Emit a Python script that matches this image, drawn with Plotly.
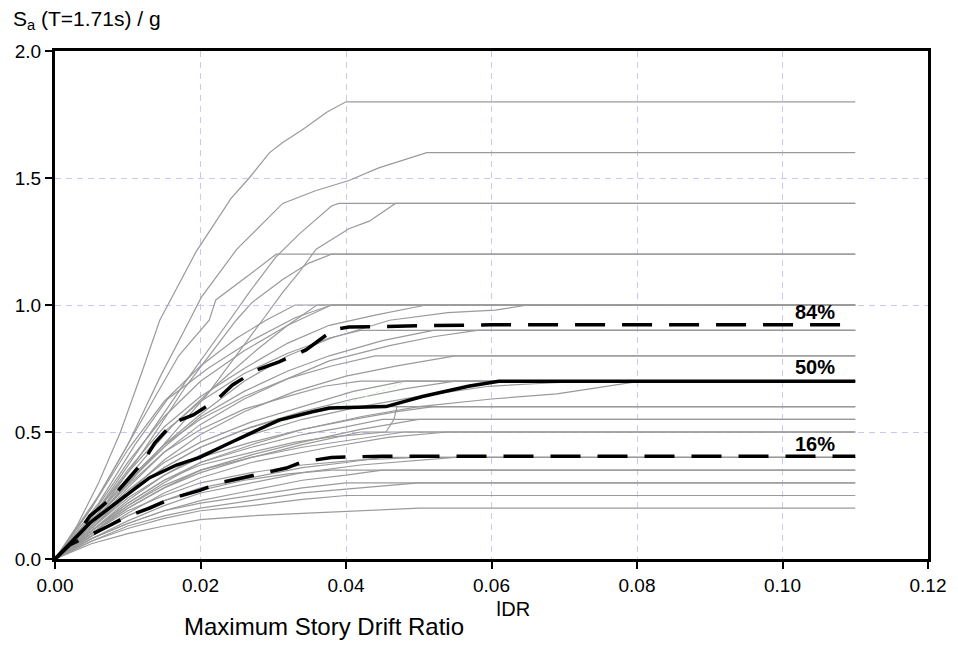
import plotly.graph_objects as go

# ---------------- data ----------------
X_END = 0.11  # flat-line extension of every IDA curve

gray_x = [
    [0, 0.003, 0.006, 0.009, 0.012, 0.0144, 0.0194, 0.0242, 0.0267, 0.0295, 0.0313, 0.034, 0.0374, 0.040],
    [0, 0.005, 0.010, 0.0145, 0.0185, 0.0201, 0.025, 0.0271, 0.0313, 0.0358, 0.0404, 0.0445, 0.0511],
    [0, 0.006, 0.012, 0.018, 0.024, 0.0267, 0.0304, 0.0336, 0.038, 0.039],
    [0, 0.007, 0.014, 0.021, 0.0285, 0.0313, 0.0336, 0.0359, 0.0404, 0.0432, 0.0468],
    [0, 0.006, 0.012, 0.017, 0.0212, 0.0221, 0.0263, 0.0304],
    [0, 0.006, 0.012, 0.018, 0.0249, 0.0271, 0.0313, 0.0349, 0.038],
    [0, 0.005, 0.010, 0.015, 0.020, 0.025, 0.029, 0.033],
    [0, 0.005, 0.010, 0.015, 0.020, 0.026, 0.032, 0.038],
    [0, 0.006, 0.011, 0.0155, 0.021, 0.027, 0.033, 0.038],
    [0, 0.005, 0.010, 0.016, 0.022, 0.028, 0.032, 0.036],
    [0, 0.005, 0.010, 0.015, 0.020, 0.026, 0.032, 0.0377, 0.044, 0.051],
    [0, 0.005, 0.010, 0.015, 0.020, 0.026, 0.032, 0.038, 0.046, 0.054, 0.0605, 0.065],
    [0, 0.005, 0.010, 0.015, 0.020, 0.026, 0.032, 0.0377, 0.042],
    [0, 0.005, 0.010, 0.015, 0.020, 0.026, 0.032, 0.0377, 0.045, 0.052],
    [0, 0.005, 0.010, 0.015, 0.020, 0.026, 0.032, 0.0377, 0.046, 0.052, 0.058],
    [0, 0.005, 0.010, 0.015, 0.020, 0.026, 0.032, 0.038, 0.044],
    [0, 0.005, 0.010, 0.015, 0.020, 0.026, 0.033, 0.040, 0.047, 0.055],
    [0, 0.005, 0.010, 0.015, 0.020, 0.026, 0.032, 0.037, 0.042],
    [0, 0.005, 0.010, 0.015, 0.020, 0.027, 0.034, 0.041, 0.048],
    [0, 0.005, 0.010, 0.015, 0.020, 0.027, 0.034, 0.041, 0.048, 0.055],
    [0, 0.005, 0.010, 0.015, 0.020, 0.027, 0.034, 0.042, 0.050, 0.0596, 0.066, 0.073],
    [0, 0.005, 0.010, 0.015, 0.020, 0.027, 0.034, 0.042, 0.050, 0.060, 0.069, 0.075, 0.0805],
    [0, 0.005, 0.010, 0.015, 0.020, 0.026, 0.032, 0.036, 0.040],
    [0, 0.005, 0.010, 0.015, 0.020, 0.027, 0.033, 0.0377, 0.0455, 0.0466, 0.047],
    [0, 0.005, 0.010, 0.015, 0.020, 0.027, 0.034, 0.041, 0.047, 0.052],
    [0, 0.005, 0.010, 0.015, 0.020, 0.027, 0.034, 0.040, 0.045],
    [0, 0.005, 0.010, 0.015, 0.020, 0.027, 0.034, 0.042, 0.050],
    [0, 0.005, 0.010, 0.015, 0.020, 0.027, 0.034, 0.042],
    [0, 0.005, 0.010, 0.015, 0.020, 0.027, 0.0377, 0.046, 0.054],
    [0, 0.005, 0.010, 0.015, 0.020, 0.027, 0.034, 0.041, 0.048],
    [0, 0.005, 0.010, 0.015, 0.020, 0.027, 0.034, 0.040, 0.045],
    [0, 0.005, 0.010, 0.015, 0.020, 0.027, 0.034, 0.042, 0.050, 0.055],
    [0, 0.005, 0.010, 0.015, 0.020, 0.027, 0.034, 0.042, 0.050],
    [0, 0.005, 0.010, 0.015, 0.020, 0.026, 0.032, 0.038],
    [0, 0.005, 0.010, 0.015, 0.020, 0.027, 0.034, 0.040, 0.045],
    [0, 0.005, 0.010, 0.015, 0.020, 0.027, 0.034, 0.040],
    [0, 0.005, 0.010, 0.015, 0.020, 0.027, 0.034, 0.042, 0.050],
    [0, 0.005, 0.010, 0.015, 0.020, 0.027, 0.034, 0.040],
    [0, 0.005, 0.010, 0.015, 0.020, 0.027, 0.034, 0.042, 0.050],
]
gray_y = [
    [0, 0.13, 0.30, 0.50, 0.74, 0.94, 1.21, 1.42, 1.50, 1.60, 1.64, 1.69, 1.76, 1.80],
    [0, 0.20, 0.45, 0.72, 0.94, 1.03, 1.22, 1.28, 1.40, 1.45, 1.49, 1.54, 1.60],
    [0, 0.20, 0.45, 0.70, 0.94, 1.05, 1.19, 1.28, 1.39, 1.40],
    [0, 0.20, 0.42, 0.65, 0.94, 1.05, 1.13, 1.22, 1.30, 1.33, 1.40],
    [0, 0.25, 0.55, 0.80, 0.94, 1.02, 1.11, 1.20],
    [0, 0.18, 0.42, 0.68, 0.94, 1.01, 1.10, 1.165, 1.20],
    [0, 0.20, 0.43, 0.62, 0.76, 0.87, 0.94, 1.00],
    [0, 0.17, 0.38, 0.56, 0.70, 0.82, 0.92, 1.00],
    [0, 0.22, 0.45, 0.63, 0.75, 0.86, 0.95, 1.00],
    [0, 0.15, 0.32, 0.52, 0.68, 0.83, 0.92, 1.00],
    [0, 0.16, 0.35, 0.52, 0.64, 0.75, 0.85, 0.92, 0.96, 1.00],
    [0, 0.14, 0.30, 0.45, 0.57, 0.70, 0.80, 0.87, 0.94, 0.97, 0.98, 1.00],
    [0, 0.16, 0.34, 0.50, 0.62, 0.73, 0.81, 0.87, 0.90],
    [0, 0.14, 0.30, 0.44, 0.56, 0.66, 0.74, 0.80, 0.86, 0.90],
    [0, 0.13, 0.28, 0.42, 0.53, 0.63, 0.71, 0.78, 0.84, 0.875, 0.90],
    [0, 0.15, 0.31, 0.45, 0.55, 0.64, 0.71, 0.76, 0.80],
    [0, 0.12, 0.26, 0.39, 0.49, 0.58, 0.66, 0.72, 0.76, 0.80],
    [0, 0.14, 0.29, 0.42, 0.51, 0.59, 0.64, 0.68, 0.70],
    [0, 0.13, 0.27, 0.38, 0.46, 0.54, 0.60, 0.66, 0.70],
    [0, 0.12, 0.25, 0.36, 0.44, 0.52, 0.58, 0.63, 0.67, 0.70],
    [0, 0.11, 0.23, 0.33, 0.41, 0.49, 0.55, 0.60, 0.64, 0.68, 0.69, 0.70],
    [0, 0.10, 0.21, 0.30, 0.38, 0.45, 0.51, 0.56, 0.60, 0.63, 0.65, 0.675, 0.70],
    [0, 0.13, 0.26, 0.36, 0.44, 0.51, 0.56, 0.58, 0.60],
    [0, 0.11, 0.22, 0.31, 0.37, 0.42, 0.46, 0.48, 0.50, 0.55, 0.60],
    [0, 0.12, 0.24, 0.33, 0.40, 0.46, 0.51, 0.55, 0.58, 0.60],
    [0, 0.11, 0.22, 0.31, 0.38, 0.44, 0.49, 0.52, 0.55],
    [0, 0.10, 0.20, 0.28, 0.35, 0.41, 0.46, 0.51, 0.55],
    [0, 0.10, 0.20, 0.28, 0.34, 0.40, 0.45, 0.50],
    [0, 0.09, 0.18, 0.26, 0.32, 0.38, 0.44, 0.48, 0.50],
    [0, 0.11, 0.21, 0.29, 0.35, 0.40, 0.44, 0.47, 0.50],
    [0, 0.09, 0.17, 0.23, 0.28, 0.32, 0.36, 0.38, 0.40],
    [0, 0.08, 0.15, 0.21, 0.26, 0.30, 0.34, 0.37, 0.39, 0.40],
    [0, 0.10, 0.19, 0.25, 0.30, 0.34, 0.37, 0.39, 0.40],
    [0, 0.09, 0.17, 0.23, 0.27, 0.31, 0.335, 0.35],
    [0, 0.08, 0.14, 0.19, 0.23, 0.27, 0.31, 0.33, 0.35],
    [0, 0.08, 0.14, 0.19, 0.22, 0.25, 0.28, 0.30],
    [0, 0.07, 0.13, 0.17, 0.20, 0.23, 0.26, 0.28, 0.30],
    [0, 0.07, 0.12, 0.16, 0.19, 0.21, 0.235, 0.25],
    [0, 0.06, 0.10, 0.13, 0.155, 0.17, 0.18, 0.19, 0.20],
]

# faint green trace visible in the bundle
green_x = [0.030, 0.036, 0.0422, 0.0482]
green_y = [0.53, 0.58, 0.634, 0.697]

p84_x = [0, 0.0025, 0.0048, 0.0078, 0.0121, 0.0137, 0.0162, 0.019, 0.0222, 0.0244, 0.0277,
         0.0308, 0.0345, 0.0373, 0.0377, 0.0404, 0.050, 0.060, 0.110]
p84_y = [0, 0.07, 0.17, 0.24, 0.382, 0.456, 0.535, 0.567, 0.626, 0.685, 0.744,
         0.776, 0.823, 0.882, 0.90, 0.913, 0.918, 0.922, 0.922]

p50_x = [0, 0.0048, 0.0089, 0.013, 0.0167, 0.0199, 0.0235, 0.0272, 0.0308, 0.0354, 0.0377,
         0.0455, 0.0505, 0.0568, 0.061, 0.110]
p50_y = [0, 0.142, 0.232, 0.32, 0.37, 0.40, 0.45, 0.50, 0.547, 0.58, 0.594,
         0.60, 0.64, 0.68, 0.70, 0.70]

p16_x = [0, 0.002, 0.0071, 0.0098, 0.013, 0.0162, 0.0199, 0.0226, 0.0258, 0.029, 0.0318,
         0.034, 0.038, 0.045, 0.110]
p16_y = [0, 0.055, 0.126, 0.166, 0.20, 0.24, 0.27, 0.30, 0.32, 0.34, 0.358,
         0.382, 0.40, 0.405, 0.405]

pct_labels = ["84%", "50%", "16%"]
pct_label_x = [0.1044, 0.1044, 0.1044]
pct_label_y = [0.972, 0.756, 0.453]

x_ticks = [0.00, 0.02, 0.04, 0.06, 0.08, 0.10, 0.12]
y_ticks = [0.0, 0.5, 1.0, 1.5, 2.0]

# ---------------- figure ----------------
FONT = "Liberation Sans, Arial, sans-serif"
fig = go.Figure()

for xs, ys in zip(gray_x, gray_y):
    fig.add_trace(go.Scatter(
        x=xs + [X_END], y=ys + [ys[-1]], mode="lines",
        line=dict(color="#9a9a9a", width=1.2), hoverinfo="skip", showlegend=False))

fig.add_trace(go.Scatter(x=green_x, y=green_y, mode="lines",
                         line=dict(color="#c9efc9", width=1, dash="dot"),
                         hoverinfo="skip", showlegend=False))

fig.add_trace(go.Scatter(x=p84_x, y=p84_y, mode="lines",
                         line=dict(color="black", width=3.5, dash="30px,17px"),
                         showlegend=False))
fig.add_trace(go.Scatter(x=p50_x, y=p50_y, mode="lines",
                         line=dict(color="black", width=3.5), showlegend=False))
fig.add_trace(go.Scatter(x=p16_x, y=p16_y, mode="lines",
                         line=dict(color="black", width=3.5, dash="30px,17px"),
                         showlegend=False))

for t, lx, ly in zip(pct_labels, pct_label_x, pct_label_y):
    fig.add_annotation(x=lx, y=ly, text="<b>%s</b>" % t, showarrow=False,
                       font=dict(family=FONT, size=20, color="black"),
                       xanchor="center", yanchor="middle")

# axis titles
fig.add_annotation(xref="paper", yref="paper", x=-0.050, y=1.061,
                   text="S<sub>a</sub> (T=1.71s) / g", showarrow=False,
                   xanchor="left", yanchor="middle",
                   font=dict(family=FONT, size=21, color="black"))
fig.add_annotation(xref="paper", yref="paper", x=0.308, y=-0.132,
                   text="Maximum Story Drift Ratio", showarrow=False,
                   xanchor="center", yanchor="middle",
                   font=dict(family=FONT, size=24, color="black"))
fig.add_annotation(xref="paper", yref="paper", x=0.525, y=-0.099,
                   text="\u01C0DR", showarrow=False,
                   xanchor="center", yanchor="middle",
                   font=dict(family=FONT, size=20, color="black"))

axis_common = dict(
    showline=True, linecolor="black", linewidth=3, mirror=True,
    ticks="outside", ticklen=7, tickwidth=2, tickcolor="black",
    showgrid=True, gridcolor="#c8c8f5", gridwidth=1, griddash="6px,5px",
    zeroline=False, tickfont=dict(family=FONT, size=19, color="black"),
)

fig.update_xaxes(range=[0, 0.12], tickvals=x_ticks, tickformat=".2f", **axis_common)
fig.update_yaxes(range=[0, 2.0], tickvals=y_ticks, tickformat=".1f", **axis_common)

fig.update_layout(
    width=958, height=654,
    margin=dict(l=55, r=22, t=51, b=95),
    plot_bgcolor="white", paper_bgcolor="white",
    showlegend=False,
    font=dict(family=FONT),
)

fig.write_html("out.html")
